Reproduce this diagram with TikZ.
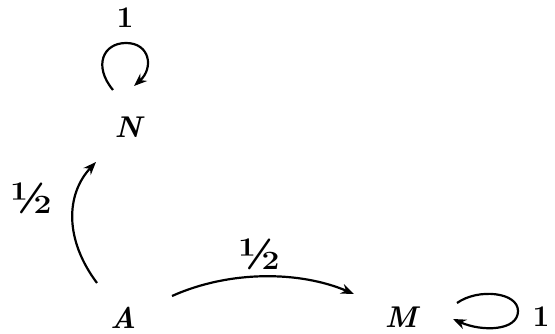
\documentclass[tikz,border=0pt]{standalone}
\usetikzlibrary{arrows.meta}
\begin{document}
\begin{tikzpicture}[x=1pt,y=1pt,
  lbl/.style={inner sep=0pt,font=\fontsize{30}{34}\selectfont\bfseries},
  hf/.style={inner sep=0pt,font=\fontsize{44}{48}\selectfont\bfseries},
  st/.style={inner sep=0pt,font=\fontsize{30}{34}\selectfont\bfseries\itshape},
  edge/.style={line width=2.2pt,-{Stealth[length=13pt,width=10pt]}}]
\useasboundingbox (0,0) rectangle (555,334);
\node[st] (N) at (128,207) {N};
\node[st] (A) at (123,16) {A};
\node[st] (M) at (401,17) {M};
\node[lbl] (l1) at (125,316) {1};
\node[lbl] (l2) at (541,17) {1};
\node[hf] (h1) at (32,136) {½};
\node[hf] (h2) at (260,80) {½};
% A -> N
\coordinate (an1) at (97,51);
\coordinate (an2) at (96,172);
\draw[edge] (an1) .. controls (64,95) and (66,140) .. (an2);
% A -> M
\coordinate (am1) at (172,38);
\coordinate (am2) at (354,40);
\draw[edge] (am1) .. controls (230,64) and (300,63) .. (am2);
% loop N
\coordinate (ln1) at (113,244);
\coordinate (ln2) at (134,248);
\draw[edge] (ln1) .. controls (93,268) and (103,291) .. (126,291) .. controls (150,291) and (154,266) .. (ln2);
% loop M
\coordinate (lm1) at (457,31);
\coordinate (lm2) at (453,15);
\draw[edge] (lm1) .. controls (478,46) and (518,42) .. (518,23) .. controls (518,3) and (482,2) .. (lm2);
\end{tikzpicture}
\end{document}
